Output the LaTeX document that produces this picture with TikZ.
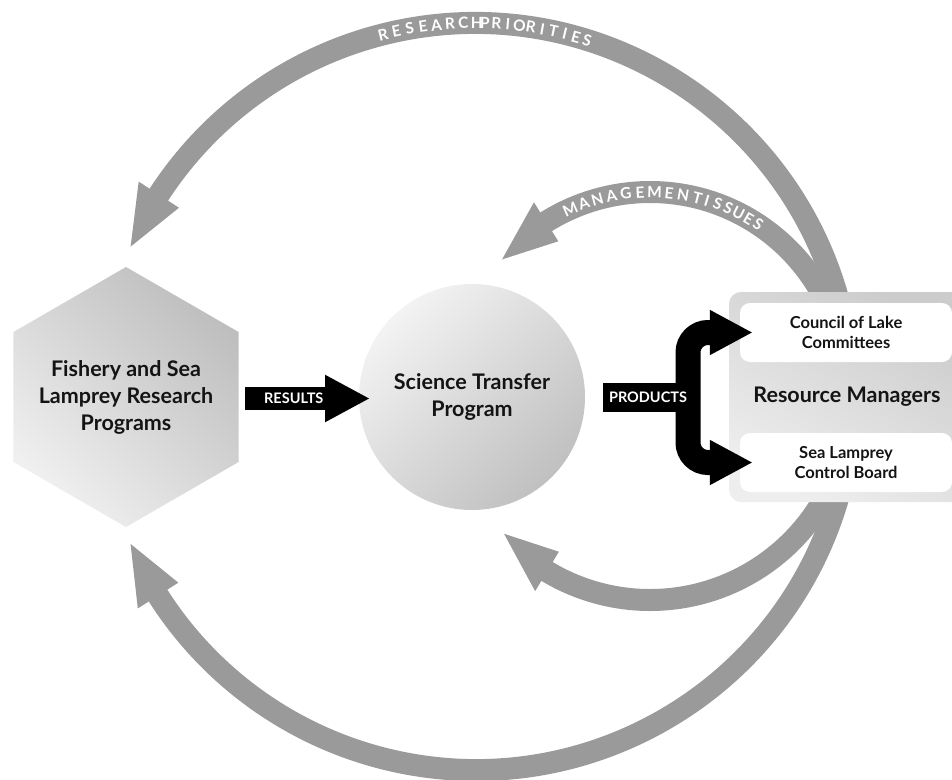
\documentclass[tikz,border=0pt]{standalone}
\usepackage{fontspec}
\setmainfont{Lato}
\usetikzlibrary{shapes.geometric,arrows.meta,calc}

\definecolor{flowgray}{RGB}{153,154,153}
\definecolor{inkblack}{RGB}{20,20,20}

\newcommand{\mainlabel}{\bfseries\fontsize{21.5}{27}\selectfont}
\newcommand{\boxlabel}{\bfseries\fontsize{16.5}{20}\selectfont}
\newcommand{\taglabel}{\bfseries\fontsize{14.5}{15}\selectfont}
\newcommand{\arclabel}{\bfseries\fontsize{15.5}{15.5}\selectfont}

% One letter-spaced word set along a circular band.
% #1 centre, #2 radius, #3 start angle, #4 end angle, #5 comma separated letters
\newcommand{\curvedlabel}[5]{%
  \gdef\arcsum{0}\gdef\arccount{0}%
  \foreach \ch in {#5}{%
    \setbox0=\hbox{\arclabel\ch}%
    \pgfmathsetmacro\tmpsum{\arcsum+\the\wd0}\xdef\arcsum{\tmpsum}%
    \pgfmathtruncatemacro\tmpcount{\arccount+1}\xdef\arccount{\tmpcount}%
  }%
  \pgfmathsetmacro\arcgap{((#4)-(#3))*pi/180*(#2)-\arcsum}%
  \pgfmathsetmacro\arcgap{\arcgap/(\arccount-1)}%
  \xdef\arcgap{\arcgap}%
  \gdef\arcpos{0}%
  \foreach \ch in {#5}{%
    \setbox0=\hbox{\arclabel\ch}%
    \pgfmathsetmacro\chw{\the\wd0}%
    \pgfmathsetmacro\ang{(#3)+(\arcpos+\chw/2)/(#2)*180/pi}%
    \pgfmathsetmacro\rot{-1*(\ang)-90}%
    \pgfmathsetmacro\tmppos{\arcpos+\chw+\arcgap}\xdef\arcpos{\tmppos}%
    \node[text=white,font=\arclabel,inner sep=0pt,rotate=\rot] at ($(#1)+(\ang:#2)$) {\ch};
  }%
}

\begin{document}
\begin{tikzpicture}[x=1pt,y=-1pt,
  flow/.style={draw=flowgray,line width=22pt},
  flowhead/.style={fill=flowgray},
  tag/.style={text=white,font=\taglabel,inner sep=0pt},
  wbox/.style={fill=white,rounded corners=10pt,minimum width=212pt,
      minimum height=59pt,align=center,font=\boxlabel,inner sep=0pt,text=inkblack}]
\useasboundingbox (0,0) rectangle (952,779);

% centres of the four feedback arcs
\coordinate (cT) at (475,400);
\coordinate (cB) at (476,393);
\coordinate (cM) at (650,388);
\coordinate (cS) at (650,400);

% research priorities (outer, top)
\draw[flow] ($(cT)+(-14:377)$) arc[start angle=-14,end angle=-147.5,radius=377];
\fill[flowhead] ($(cT)+(-147:353)$) -- ($(cT)+(-156:377)$) -- ($(cT)+(-147:401)$) -- cycle;
\curvedlabel{cT}{377}{-104.1}{-89.7}{R,E,S,E,A,R,C,H}
\curvedlabel{cT}{377}{-88.5}{-72.7}{P,R,I,O,R,I,T,I,E,S}

% management issues (inner, top)
\draw[flow] ($(cM)+(-27:196)$) arc[start angle=-27,end angle=-122.5,radius=196];
\fill[flowhead] ($(cM)+(-122:173)$) -- ($(cM)+(-139:196)$) -- ($(cM)+(-122:219)$) -- cycle;
\curvedlabel{cM}{196}{-114}{-76}{M,A,N,A,G,E,M,E,N,T}
\curvedlabel{cM}{196}{-73.1}{-56.5}{I,S,S,U,E,S}

% outer, bottom
\draw[flow] ($(cB)+(14:377)$) arc[start angle=14,end angle=148,radius=377];
\fill[flowhead] ($(cB)+(147.5:353)$) -- ($(cB)+(156.4:377)$) -- ($(cB)+(147.5:401)$) -- cycle;

% inner, bottom
\draw[flow] ($(cS)+(28:200)$) arc[start angle=28,end angle=121.5,radius=200];
\fill[flowhead] ($(cS)+(121:177)$) -- ($(cS)+(137.5:198)$) -- ($(cS)+(121:223)$) -- cycle;

% main blocks
\node[regular polygon,regular polygon sides=6,shape border rotate=30,
      minimum size=260pt,inner sep=0pt,
      top color={rgb,255:red,190;green,190;blue,190},
      bottom color={rgb,255:red,240;green,240;blue,240},shading angle=-45] (hex) at (126,397) {};
\node[align=center,font=\mainlabel,text=inkblack] (hexlabel) at (hex.center)
      {Fishery and Sea\\Lamprey Research\\Programs};

\node[circle,minimum size=226pt,inner sep=0pt,
      top color={rgb,255:red,243;green,243;blue,243},
      bottom color={rgb,255:red,192;green,192;blue,192},shading angle=45,
      align=center,font=\bfseries\fontsize{21.5}{26.5}\selectfont,text=inkblack] (sci) at (472,397)
      {Science Transfer\\Program};

\node[rectangle,rounded corners=12pt,minimum width=236pt,minimum height=210pt,
      top color={rgb,255:red,204;green,204;blue,204},
      bottom color={rgb,255:red,238;green,238;blue,238},shading angle=-30,
      font=\mainlabel,text=inkblack] (rmg) at (847,397) {Resource Managers};

\node[wbox] (clc) at (846,332.5) {Council of Lake\\Committees};
\node[wbox] (slcb) at (846,462.5) {Sea Lamprey\\Control Board};

% results
\draw[line width=23pt,-{Triangle[length=45pt,width=44pt]}]
  ([shift={(119,1.5)}]hex.center) -- node[tag,pos=0.39] {RESULTS} ([shift={(-102,1.5)}]sci.center);

% products, splitting towards both boards
\coordinate (pj) at ([xshift=216]sci.center);
\draw[line width=29pt] ([xshift=131]sci.center) -- (pj);
\draw[line width=25pt,rounded corners=20pt,-{Triangle[length=43pt,width=42pt]}]
  (pj) |- ([xshift=13]clc.west);
\draw[line width=25pt,rounded corners=20pt,-{Triangle[length=43pt,width=42pt]}]
  (pj) |- ([xshift=13]slcb.west);
\node[tag] at ([xshift=176]sci.center) {PRODUCTS};
\end{tikzpicture}
\end{document}
